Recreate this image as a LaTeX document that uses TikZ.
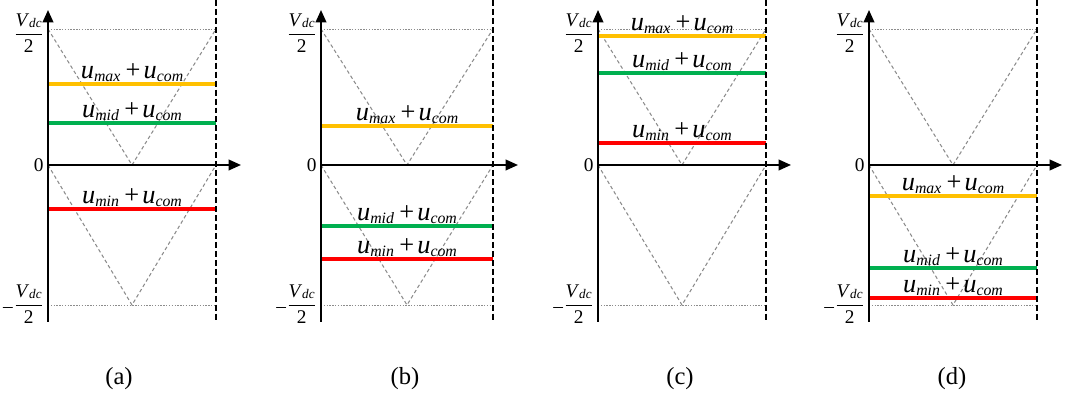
\documentclass[tikz,border=0pt]{standalone}
\usepackage{amsmath}
\usepackage{fontspec}
\setmainfont{Liberation Serif}
\usepackage{tikz}
\usetikzlibrary{arrows.meta}
\definecolor{coramarelo}{RGB}{255,192,0}
\definecolor{corverde}{RGB}{0,176,80}
\definecolor{corvermelho}{RGB}{255,0,0}
\definecolor{corcinza}{RGB}{140,140,140}
\setlength{\nulldelimiterspace}{0pt}
\newcommand{\sinal}[1]{\textit{u}\raisebox{-1.3pt}{\fontsize{9}{10}\selectfont\textit{#1}}}
\newcommand{\soma}[1]{\sinal{#1}\hspace{0.2em}+\hspace{0.12em}\sinal{com}}
\newcommand{\meiavdc}{\dfrac{\text{\textit{V}\raisebox{-1pt}{\fontsize{7.5}{8}\selectfont\textit{dc}}}}{\text{2}}}

\begin{document}
\begin{tikzpicture}[
  x=0.02cm, y=-0.02cm,
  eixo/.style={-{Triangle[length=7pt,width=6pt]}, line width=1.1pt},
  limite/.style={line width=1.4pt, dash pattern=on 3.4pt off 1.7pt},
  portadora/.style={line width=0.6pt, color=corcinza, dash pattern=on 2pt off 1.5pt},
  pontilhado/.style={line width=0.5pt, color=corcinza, dash pattern=on 0.8pt off 0.8pt},
  nivel/.style={line width=2.3pt},
  rotulo/.style={anchor=base, inner sep=0pt, font=\fontsize{15}{17}\selectfont},
  escala/.style={anchor=east, inner sep=0pt, font=\fontsize{11}{13}\selectfont},
  legenda/.style={inner sep=0pt, font=\fontsize{14}{16}\selectfont}
]
  \useasboundingbox (0,0) rectangle (1065,394);
  \foreach \p/\ox/\w/\cx/\ymax/\ymid/\ymin in
    {a/48/168/71/84/123/209, b/321/172/84/126/226/259,
     c/598/168/82/36/73/143, d/869/168/83/196/268/298}{
    \begin{scope}[shift={(\ox,0)}]
      \coordinate (\p-o) at (0,165);
      \coordinate (\p-topo) at (0,10);
      \coordinate (\p-base) at (0,322);
      % portadora triangular e limites
      \draw[pontilhado] (0,29) -- (\w,29);
      \draw[pontilhado] (0,305) -- (\w,305);
      \draw[portadora] (0,29) -- (\w/2,165) -- (\w,29);
      \draw[portadora] (0,165) -- (\w/2,305) -- (\w,165);
      % niveis de referencia
      \draw[nivel, coramarelo] (0,\ymax) -- (\w,\ymax);
      \draw[nivel, corverde] (0,\ymid) -- (\w,\ymid);
      \draw[nivel, corvermelho] (0,\ymin) -- (\w,\ymin);
      \node[rotulo] (\p-max) at (\w/2,\ymax-5) {\soma{max}};
      \node[rotulo] (\p-mid) at (\w/2,\ymid-5) {\soma{mid}};
      \node[rotulo] (\p-min) at (\w/2,\ymin-5) {\soma{min}};
      % eixos
      \draw[eixo] (\p-base) -- (\p-topo);
      \draw[eixo] (\p-o) -- ++(\w+25,0);
      \draw[limite] (\w,0) -- (\w,322);
      \node[escala] (\p-vp) at (-6,33) {$\meiavdc$};
      \node[escala] (\p-vn) at (-6,304) {\raisebox{-1.2pt}{–}\hspace{1.5pt}$\meiavdc$};
      \node[escala] (\p-zero) at (-4,165) {0};
      \node[legenda] (\p-leg) at (\cx,379) {(\p)};
    \end{scope}
  }
\end{tikzpicture}
\end{document}
